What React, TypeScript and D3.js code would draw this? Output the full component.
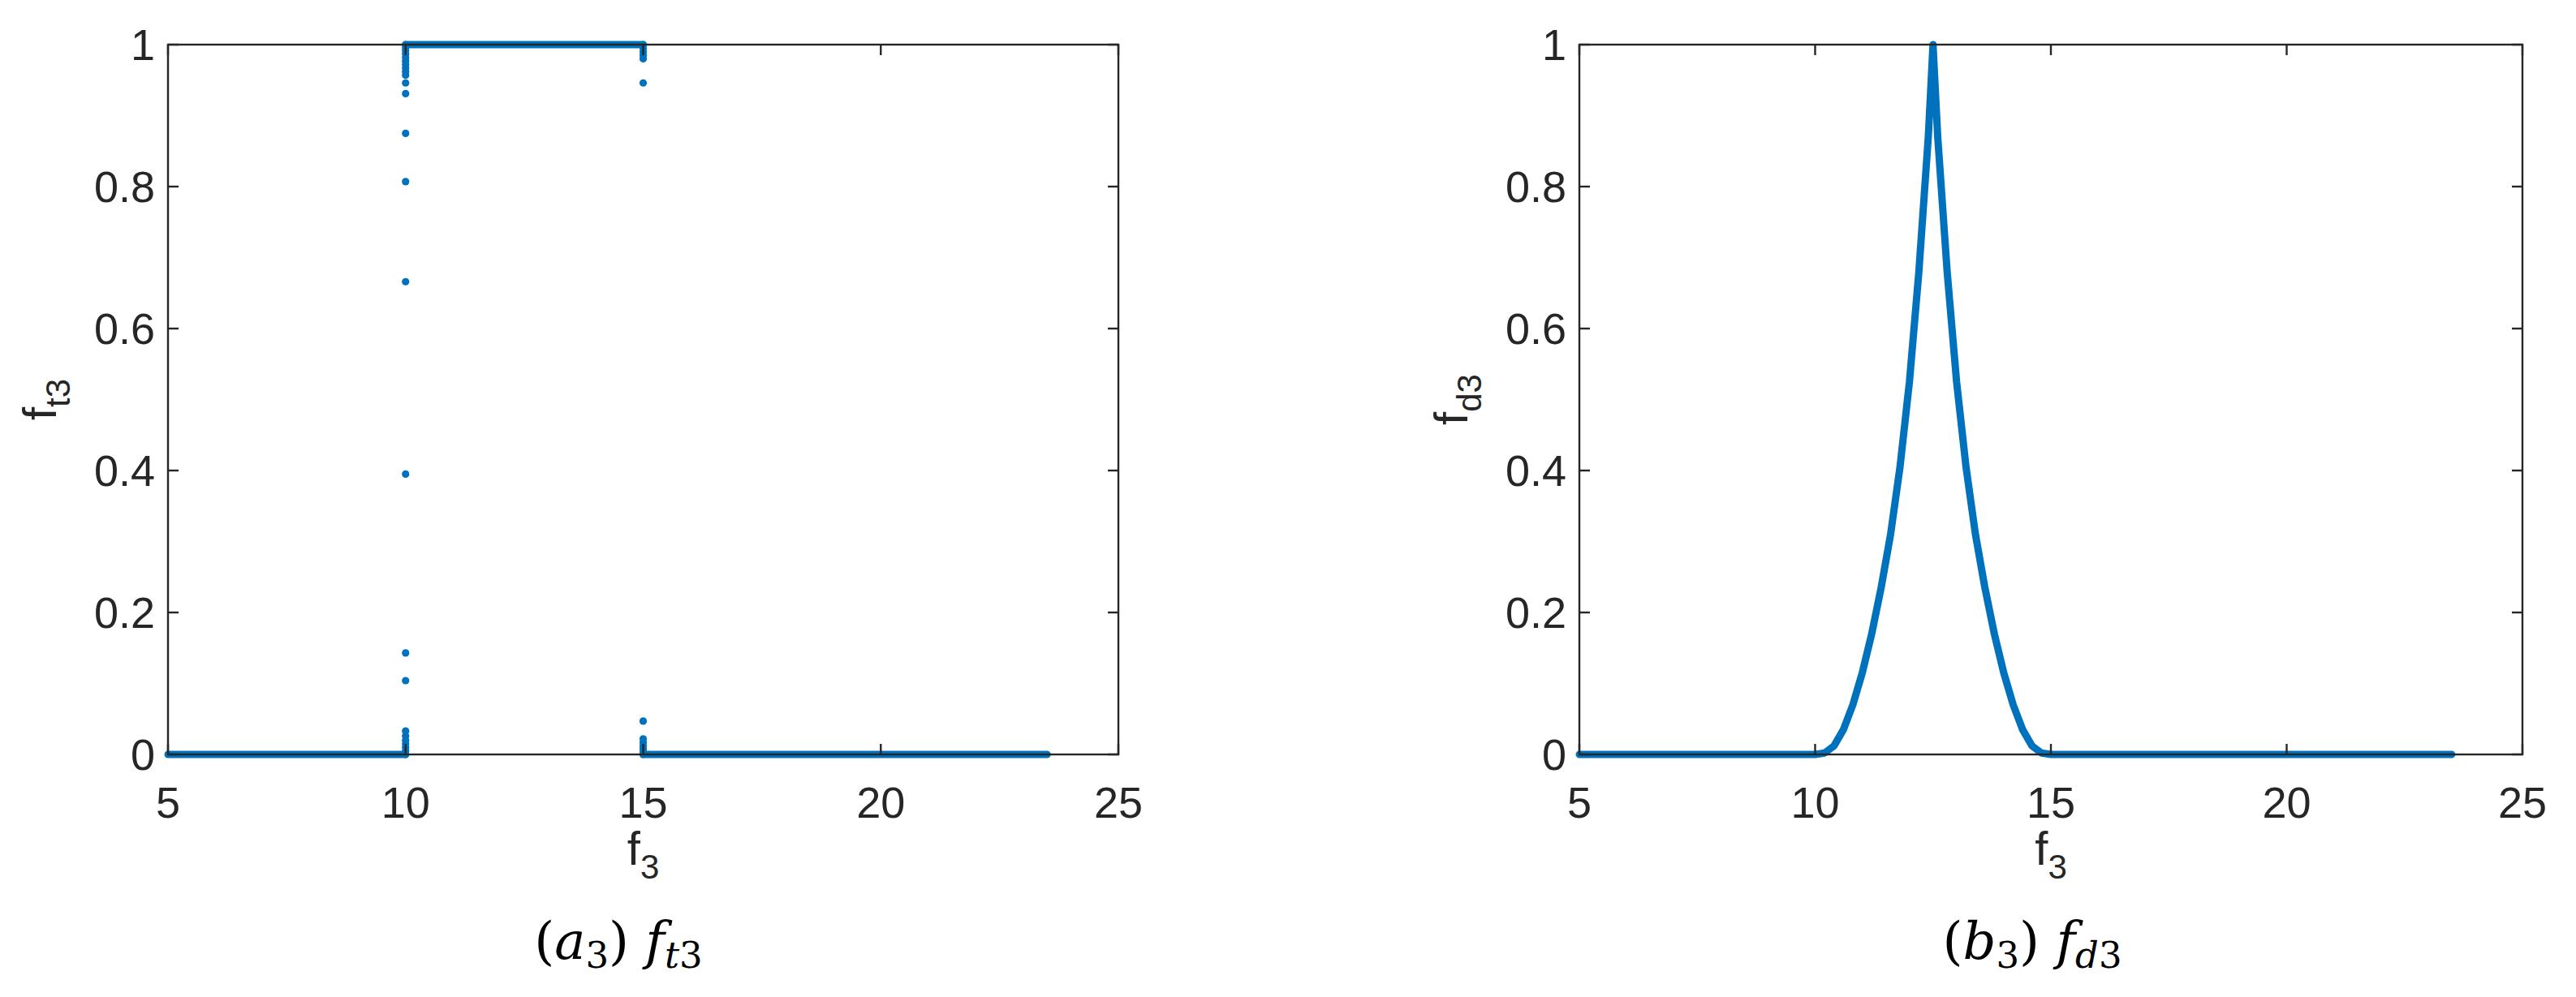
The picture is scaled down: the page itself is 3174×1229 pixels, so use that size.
import React from 'react';
import * as d3 from 'd3';

const W = 3174;
const H = 1229;
const BLUE = '#0072BD';
const INK = '#262626';

const xTicks = [5, 10, 15, 20, 25];
const yTicks = [0, 0.2, 0.4, 0.6, 0.8, 1];
const yTickLabels = ['0', '0.2', '0.4', '0.6', '0.8', '1'];

// (a3) f_t3 : flat runs of dense dots, plus the loose dots at the two jumps
const ftRunX0 = [5, 10, 15];
const ftRunX1 = [10, 15, 23.5];
const ftRunY = [0, 1, 0];
const ftRiseX = 10;
const ftRiseY = [0, 0.005, 0.01, 0.015, 0.02, 0.026, 0.033, 0.104, 0.143, 0.395, 0.666, 0.807, 0.875, 0.931, 0.946, 0.957, 0.962, 0.967, 0.972, 0.977, 0.982, 0.987, 0.992, 0.996, 1];
const ftFallX = 15;
const ftFallY = [1, 0.995, 0.99, 0.985, 0.98, 0.946, 0.047, 0.022, 0.017, 0.012, 0.008, 0.004, 0];

// (b3) f_d3 : peaked curve
const fdX = [5, 10, 10.2, 10.4, 10.6, 10.8, 11.0, 11.2, 11.4, 11.6, 11.8, 12.0, 12.2, 12.4, 12.5, 12.6, 12.8, 13.0, 13.2, 13.4, 13.6, 13.8, 14.0, 14.2, 14.4, 14.6, 14.8, 15, 23.5];
const fdY = [0, 0, 0.002, 0.012, 0.035, 0.07, 0.115, 0.17, 0.235, 0.31, 0.405, 0.525, 0.68, 0.87, 1, 0.87, 0.68, 0.525, 0.405, 0.31, 0.235, 0.17, 0.115, 0.07, 0.035, 0.012, 0.002, 0, 0];

const TOP = 55;
const BOTTOM = 930;
const TICK_LEN = 13;

function Frame({ x, y, sub, capLetter, capSub, capCx, children }) {
  const [l, r] = x.range();
  const tickFont = 54;
  const midX = (l + r) / 2;
  const midY = (TOP + BOTTOM) / 2;
  return (
    <g>
      {children}
      <rect x={l} y={TOP} width={r - l} height={BOTTOM - TOP} fill="none" stroke={INK} strokeWidth={2.4} />
      {xTicks.map(t => (
        <g key={'x' + t}>
          <line x1={x(t)} x2={x(t)} y1={BOTTOM} y2={BOTTOM - TICK_LEN} stroke={INK} strokeWidth={2.4} />
          <line x1={x(t)} x2={x(t)} y1={TOP} y2={TOP + TICK_LEN} stroke={INK} strokeWidth={2.4} />
          <text x={x(t)} y={BOTTOM + 78} textAnchor="middle" fontSize={tickFont} fill={INK}>{t}</text>
        </g>
      ))}
      {yTicks.map((t, i) => (
        <g key={'y' + t}>
          <line x1={l} x2={l + TICK_LEN} y1={y(t)} y2={y(t)} stroke={INK} strokeWidth={2.4} />
          <line x1={r} x2={r - TICK_LEN} y1={y(t)} y2={y(t)} stroke={INK} strokeWidth={2.4} />
          <text x={l - 16} y={y(t)} dy="0.36em" textAnchor="end" fontSize={tickFont} fill={INK}>{yTickLabels[i]}</text>
        </g>
      ))}
      <text x={midX} y={BOTTOM + 136} textAnchor="middle" fontSize={58} fill={INK}>
        <tspan>f</tspan><tspan fontSize={42} dy={17}>3</tspan>
      </text>
      <text transform={`translate(${l - 138},${midY}) rotate(-90)`} textAnchor="middle" fontSize={58} fill={INK}>
        <tspan>f</tspan><tspan fontSize={42} dy={17}>{sub}</tspan>
      </text>
      <text x={capCx} y={1182} textAnchor="middle" fontFamily="DejaVu Serif" fontSize={64} fill="#000">
        <tspan>(</tspan>
        <tspan fontStyle="italic">{capLetter}</tspan>
        <tspan fontSize={45} dy={11}>3</tspan>
        <tspan dy={-11}>) </tspan>
        <tspan fontStyle="italic">f</tspan>
        <tspan fontStyle="italic" fontSize={45} dy={11}>{capSub}</tspan>
        <tspan fontSize={45}>3</tspan>
      </text>
    </g>
  );
}

export default function App() {
  const y = d3.scaleLinear().domain([0, 1]).range([BOTTOM, TOP]);
  const xa = d3.scaleLinear().domain([5, 25]).range([207, 1378]);
  const xb = d3.scaleLinear().domain([5, 25]).range([1946, 3108]);

  const fdLine = d3.line<number>()
    .x((_, i) => xb(fdX[i]))
    .y(d => y(d))
    .curve(d3.curveLinear);

  return (
    <svg width={W} height={H} style={{ position: 'absolute', left: 0, top: 0, background: '#fff' }}
      fontFamily="'Liberation Sans', Arial, sans-serif">
      <rect width={W} height={H} fill="#fff" />
      <Frame x={xa} y={y} sub="t3" capLetter="a" capSub="t" capCx={762}>
        {ftRunY.map((v, i) => (
          <line key={'run' + i} x1={xa(ftRunX0[i])} x2={xa(ftRunX1[i])} y1={y(v)} y2={y(v)}
            stroke={BLUE} strokeWidth={9} strokeLinecap="round" />
        ))}
        {ftRiseY.map((v, i) => (
          <circle key={'r' + i} cx={xa(ftRiseX)} cy={y(v)} r={4.6} fill={BLUE} />
        ))}
        {ftFallY.map((v, i) => (
          <circle key={'f' + i} cx={xa(ftFallX)} cy={y(v)} r={4.6} fill={BLUE} />
        ))}
      </Frame>
      <Frame x={xb} y={y} sub="d3" capLetter="b" capSub="d" capCx={2504}>
        <path d={fdLine(fdY) || ''} fill="none" stroke={BLUE} strokeWidth={9} strokeLinejoin="round" strokeLinecap="round" />
      </Frame>
    </svg>
  );
}
